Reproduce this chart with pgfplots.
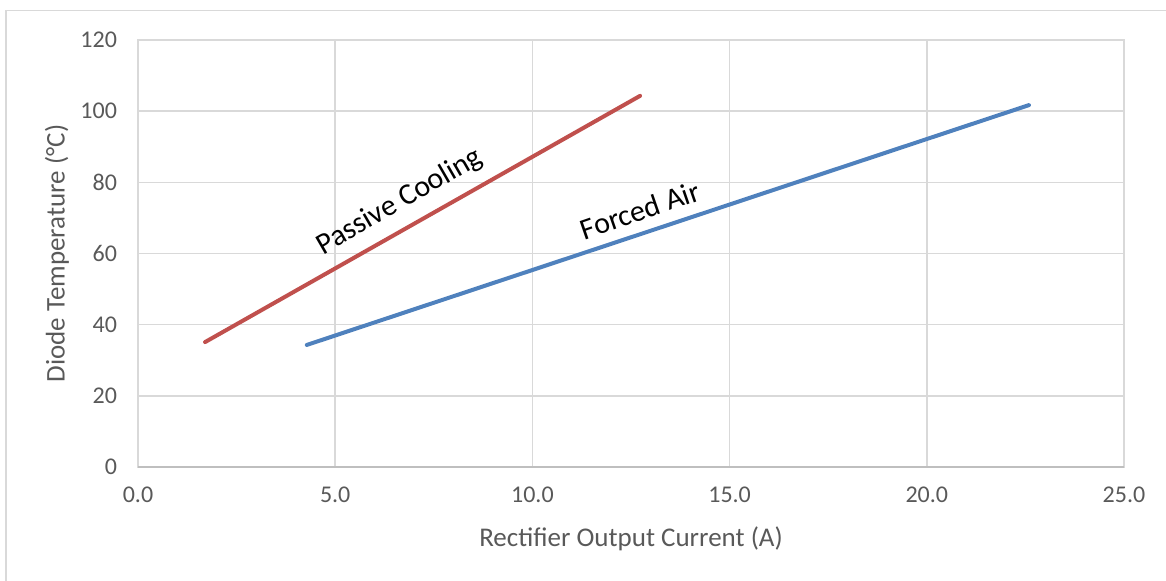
\documentclass[border=0pt]{standalone}
\usepackage{pgfplots}
\pgfplotsset{compat=1.18}
\usepackage{fontspec}
\setmainfont{Carlito}
\definecolor{gridgray}{HTML}{D9D9D9}
\definecolor{axisgray}{HTML}{BFBFBF}
\definecolor{textgray}{HTML}{595959}
\definecolor{passive}{HTML}{C0504D}
\definecolor{forced}{HTML}{4F81BD}
\begin{document}
\begin{tikzpicture}
\useasboundingbox (-69pt,-57pt) rectangle (514pt,233.5pt);
% chart area frame (cut off at right and bottom)
\draw[gridgray, line width=0.75pt] (-66pt,-60pt) -- (-66pt,228.25pt) -- (520pt,228.25pt);
\begin{axis}[
    at={(0,0)}, anchor=south west,
    scale only axis,
    width=493pt, height=213.5pt,
    xmin=0, xmax=25, ymin=0, ymax=120,
    xtick={0,5,...,25}, ytick={0,20,...,120},
    grid=major,
    major grid style={gridgray, line width=0.75pt},
    axis line style={gridgray, line width=0.75pt},
    tick style={draw=none},
    tick label style={font=\fontsize{12}{14}\selectfont, text=textgray},
    /pgf/number format/assume math mode=true,
    xticklabel style={/pgf/number format/fixed, /pgf/number format/fixed zerofill, /pgf/number format/precision=1, yshift=-6.5pt},
    yticklabel style={xshift=-7pt},
    clip=false,
  ]
  \addplot[passive, line width=2pt, line cap=round] coordinates {(1.70,35.1) (12.73,104.3)};
  \addplot[forced, line width=2pt, line cap=round] coordinates {(4.28,34.3) (22.59,101.7)};
  \draw[axisgray, line width=0.75pt] (rel axis cs:0,0) -- (rel axis cs:1,0);
  \node[rotate=30, font=\fontsize{15}{17}\selectfont] at (axis cs:6.64,74.5) {Passive Cooling};
  \node[rotate=19, font=\fontsize{15}{17}\selectfont] at (axis cs:12.73,72.2) {Forced Air};
  \node[text=textgray, font=\fontsize{13.5}{16}\selectfont] at ([yshift=-36pt]rel axis cs:0.5,0) {Rectifier Output Current (A)};
  \node[rotate=90, text=textgray, font=\fontsize{13.5}{16}\selectfont] at ([xshift=-40.5pt]rel axis cs:0,0.5) {Diode Temperature (°C)};
\end{axis}
\end{tikzpicture}
\end{document}
